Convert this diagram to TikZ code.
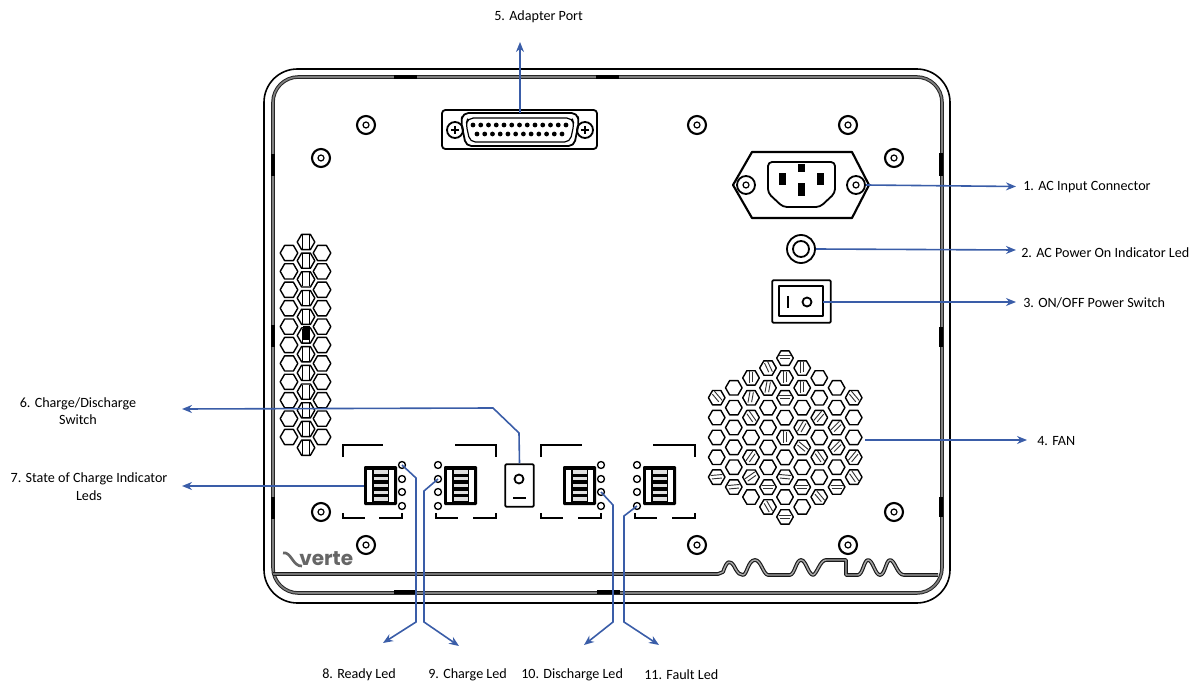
\documentclass[tikz,border=0pt]{standalone}
\usepackage{fontspec}
\setmainfont{Carlito}
\newfontfamily\brandfont{Poppins}
\usetikzlibrary{arrows.meta}

\begin{document}
\begin{tikzpicture}[
    % GLOBAL SETTINGS
    x=0.75pt, y=-0.75pt,
    % STYLES
    panel/.style={draw=black, line width=1.35pt, line join=round},
    thinpanel/.style={draw=black, line width=0.9pt, line join=round},
    frameline/.style={draw=black!85, line width=0.75pt, double=black!50, double distance=1.2pt, rounded corners=19pt},
    tabmark/.style={draw=black, line width=2.5pt},
    bandline/.style={draw=black!90, line width=0.85pt, double=black!35, double distance=1.1pt, line join=round},
    callout/.style={draw=calloutblue, line width=1.2pt, -{Stealth[length=7.5pt, width=6pt]}},
    tag/.style={font=\fontsize{10.6}{12}\selectfont, inner sep=0pt, anchor=west},
    tagc/.style={font=\fontsize{10.6}{13}\selectfont, inner sep=0pt, align=center},
    leddot/.style={circle, draw=black, line width=1pt, fill=white, minimum size=5.2pt, inner sep=0pt},
    bracket/.style={draw=black, line width=1.4pt},
    brand/.style={font=\brandfont\bfseries\fontsize{15}{16}\selectfont, text=black!60, inner sep=0pt, anchor=west}
]
    \definecolor{calloutblue}{HTML}{3A5DA8}

    \useasboundingbox (0,0) rectangle (1199,684);

    % Enclosure
    \draw[thinpanel, line width=1.2pt, rounded corners=25pt] (264,69) rectangle (950,603);
    \draw[frameline] (273,77) rectangle (942,593);
    \foreach \ax/\ay/\bx/\by in {394/77/417/77, 596/77/619/77, 394/592/417/592, 597/592/620/592,
        273/154/273/176, 273/325/273/347, 273/497/273/519,
        941/153/941/176, 941/327/941/347, 941/497/941/517} {
        \draw[tabmark] (\ax,\ay) -- (\bx,\by);
    }

    % Lower band with the ripple
    \draw[bandline] (273,574) -- (718,574) -- (723,572) .. controls (727,560) and (730,560) .. (734,566)
        .. controls (738,574) and (740,575) .. (743,575)
        .. controls (747,575) and (748,560) .. (755,560)
        .. controls (761,560) and (763,574) .. (768,575) -- (790,575)
        .. controls (795,574) and (796,560) .. (801,560)
        .. controls (806,560) and (808,574) .. (813,575)
        .. controls (817,574) and (820,560) .. (826,560) -- (846,560) -- (846,575) -- (858,575)
        .. controls (863,574) and (864,560) .. (868,560)
        .. controls (873,560) and (875,575) .. (880,575)
        .. controls (885,575) and (886,560) .. (890,560)
        .. controls (895,560) and (897,575) .. (904,575) -- (938,575);

    % Mounting screws
    \foreach \sx/\sy in {366/125, 321/158, 697/125, 848/125, 894/158, 321/512, 366/545, 697/545, 848/545, 894/512} {
        \draw[panel, line width=1.6pt] (\sx,\sy) circle[radius=9];
        \draw[thinpanel] (\sx,\sy) circle[radius=3];
    }

    % Adapter port
    \draw[panel, rounded corners=2.5pt] (442,110) rectangle (597,149);
    \draw[panel, rounded corners=4pt] (463,113) -- (577,113) -- (579,122) -- (574,146) -- (466,146) -- (461,122) -- cycle;
    \draw[thinpanel, rounded corners=4pt] (468,118) -- (572,118) -- (574,124) -- (570,142) -- (470,142) -- (466,124) -- cycle;
    \foreach \i in {0,...,12} {
        \fill (473+\i*7.75,125) circle[radius=2.4];
    }
    \foreach \i in {0,...,11} {
        \fill (477+\i*7.73,134) circle[radius=2.4];
    }
    \foreach \sx in {455,585} {
        \draw[panel] (\sx,130) circle[radius=8];
        \draw[thinpanel] (\sx-4,130) -- (\sx+4,130) (\sx,126) -- (\sx,134);
    }

    % AC input connector
    \draw[panel, line width=1.6pt] (733,185) -- (752,152) -- (852,152) -- (869,185) -- (852,218) -- (752,218) -- cycle;
    \draw[panel, rounded corners=3pt] (768,162) -- (835,162) -- (835,193) -- (820,207) -- (783,207) -- (768,193) -- cycle;
    \foreach \px/\py/\pw/\ph in {801/168/7/8, 782/179/7/12, 820/179/7/12, 801/190/7/13} {
        \fill (\px-\pw/2,\py-\ph/2) rectangle (\px+\pw/2,\py+\ph/2);
    }
    \node[circle, panel, minimum size=13.5pt, inner sep=0pt] (acleft) at (746,185) {};
    \node[circle, panel, minimum size=13.5pt, inner sep=0pt] (acright) at (856,185) {};
    \draw[thinpanel] (746,185) circle[radius=3] (856,185) circle[radius=3];

    % AC power indicator
    \node[circle, panel, minimum size=21pt, inner sep=0pt] (powerled) at (801,249) {};
    \draw[panel] (801,249) circle[radius=8];

    % Power switch
    \node[panel, minimum width=44pt, minimum height=32pt, inner sep=0pt, rounded corners=1pt] (rocker) at (801.5,301.5) {};
    \draw[panel] (779,286) rectangle (823,316);
    \draw[line width=2.2pt] (788,296) -- (788,308);
    \draw[panel] (807,302) circle[radius=4.5];

    % Fan
    \foreach \hx/\hn in {716.7/5, 733.8/6, 751/7, 768/8, 785/9, 802.2/8, 819.3/7, 836.6/6, 853.7/5} {
        \pgfmathtruncatemacro{\hlast}{\hn-1}
        \foreach \k in {0,...,\hlast} {
            \draw[thinpanel, line width=1.05pt, shift={(\hx,437.3-\hlast*9.9+\k*19.85)}]
                (8.3,0) -- (4.15,7.2) -- (-4.15,7.2) -- (-8.3,0) -- (-4.15,-7.2) -- (4.15,-7.2) -- cycle;
        }
    }
    % Blades seen through the grille
    \foreach \bx/\by/\ang in {716.7/397/-50, 768/367/-65, 785/357/0, 802.2/367/90, 751/377/90,
        785/377/90, 768/387/80, 802.2/387/90, 751/397/80, 785/397/0, 853.7/397/-50,
        751/417/-55, 819.3/417/50, 836.6/427/45, 802.2/427/60, 785/437/90,
        802.2/447/-40, 836.6/447/45, 751/457/55, 819.3/457/-55, 853.7/457/50,
        716.7/477/5, 751/477/35, 785/477/-5, 853.7/477/-55, 733.8/487/5, 768/487/0,
        802.2/487/0, 836.6/487/0, 819.3/497/-50, 768/507/-60, 785/517/0} {
        \draw[black!80, line width=0.7pt, shift={(\bx,\by)}, rotate=\ang]
            (-6,-2) -- (6,-2) (-5,1.5) -- (5,1.5);
    }

    % Side vent
    \foreach \hx in {289,322} {
        \foreach \vy in {253,271.4,...,438} {
            \draw[thinpanel, line width=1.05pt, shift={(\hx,\vy)}]
                (8.8,0) -- (4.4,7.6) -- (-4.4,7.6) -- (-8.8,0) -- (-4.4,-7.6) -- (4.4,-7.6) -- cycle;
        }
    }
    \foreach \vy in {242,260.7,...,448} {
        \draw[thinpanel, line width=1.05pt, fill=white, shift={(306,\vy)}]
            (8.8,0) -- (4.4,7.6) -- (-4.4,7.6) -- (-8.8,0) -- (-4.4,-7.6) -- (4.4,-7.6) -- cycle;
        \draw[thinpanel, line width=0.7pt] (302.5,\vy-7) -- (302.5,\vy+7) (309.5,\vy-7) -- (309.5,\vy+7);
    }
    \fill (302.5,326) rectangle (309.5,340);

    % Corner brackets
    \draw[bracket] (343,457) -- (343,445) -- (383,445);
    \draw[bracket] (343,513) -- (343,518) -- (365,518) (379,518) -- (402,518) -- (402,513);
    \draw[bracket] (455,445) -- (496,445) -- (496,457);
    \draw[bracket] (436,513) -- (436,518) -- (458,518) (473,518) -- (496,518) -- (496,513);
    \draw[bracket] (541,457) -- (541,445) -- (582,445);
    \draw[bracket] (541,513) -- (541,518) -- (563,518) (578,518) -- (601,518) -- (601,513);
    \draw[bracket] (653,445) -- (695,445) -- (695,457);
    \draw[bracket] (635,513) -- (635,518) -- (657,518) (672,518) -- (695,518) -- (695,513);

    % Charge indicator blocks
    \foreach \bx in {364,444,563,643} {
        \begin{scope}[shift={(\bx,466)}]
            \fill[rounded corners=0.8pt] (0,0) rectangle (33,39);
            \fill[white] (3,3.5) rectangle (30,35.5);
            \fill (8,2) rectangle (25,37);
            \foreach \ry in {6,12.7,19.5,26.3,33} {
                \fill[black!12] (9.5,\ry-1.7) rectangle (23.5,\ry+1.7);
            }
        \end{scope}
    }

    % Indicator dots
    \foreach \grp/\dx in {sa/402, sb/438, sc/601, sd/637} {
        \foreach \r/\dy in {1/465, 2/479, 3/492, 4/506} {
            \node[leddot] (\grp\r) at (\dx,\dy) {};
        }
    }

    % Charge/discharge switch
    \node[panel, minimum width=21.5pt, minimum height=32pt, inner sep=0pt, rounded corners=1pt] (modeswitch) at (519.5,485.5) {};
    \draw[panel] (519,479) circle[radius=4.5];
    \draw[line width=1.6pt] (513,498) -- (526,498);

    % Logo
    \node[brand] (logo) at (299,559) {verte};
    \draw[black!60, line width=2pt] (283,553) .. controls (291,551) and (293,567) .. (302,566);

    % Free ends of the callouts
    \coordinate (tipport) at (520,42);
    \coordinate (tipac) at (1016,186.5);
    \coordinate (tipled) at (1016,250);
    \coordinate (tippower) at (1016,302);
    \coordinate (tipfan) at (1027,440);
    \coordinate (tipmode) at (182,409);
    \coordinate (tipsoc) at (182,486);
    \coordinate (tipready) at (383,643);
    \coordinate (tipcharge) at (459,646);
    \coordinate (tipdisch) at (584,645);
    \coordinate (tipfault) at (659,645);
    \coordinate (portpin) at (520,113);
    \coordinate (fanedge) at (865,440);
    \coordinate (socedge) at (364,486);
    \coordinate (rockeredge) at (823,302);

    % Callouts
    \draw[callout] (portpin) -- (tipport);
    \draw[callout] (acright.east) -- (tipac);
    \draw[callout] (powerled.east) -- (tipled);
    \draw[callout] (rockeredge) -- (tippower);
    \draw[callout] (fanedge) -- (tipfan);
    \draw[callout] (modeswitch.north) -- (519,433) -- (493,408) -- (tipmode);
    \draw[callout] (socedge) -- (tipsoc);
    \draw[callout] (sa1.center) -- (416,478) -- (416,622) -- (tipready);
    \draw[callout] (sb2.center) -- (424,491) -- (424,622) -- (tipcharge);
    \draw[callout] (sc3.center) -- (613,505) -- (613,622) -- (tipdisch);
    \draw[callout] (sd4.center) -- (624,516) -- (624,622) -- (tipfault);

    % Labels
    \node[tag] (lblport) at (494,17) {5. Adapter Port};
    \node[tag] (lblac) at (1023,187) {1. AC Input Connector};
    \node[tag] (lblled) at (1021,252.5) {2. AC Power On Indicator Led};
    \node[tag] (lblpower) at (1023,303) {3. ON/OFF Power Switch};
    \node[tag] (lblfan) at (1037,441.5) {4. FAN};
    \node[tagc] (lblmode) at (78,411) {6. Charge/Discharge\\Switch};
    \node[tagc] (lblsoc) at (89,486.5) {7. State of Charge Indicator\\Leds};
    \node[tag] (lblready) at (322,675) {8. Ready Led};
    \node[tag] (lblcharge) at (428,675) {9. Charge Led};
    \node[tag] (lbldisch) at (521,675) {10. Discharge Led};
    \node[tag] (lblfault) at (644,675) {11. Fault Led};

\end{tikzpicture}
\end{document}
